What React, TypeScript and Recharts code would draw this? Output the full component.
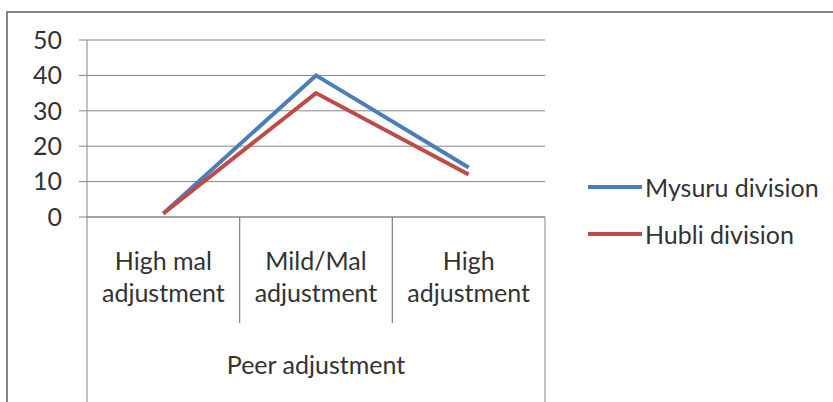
import React from 'react'
import { LineChart, Line, XAxis, YAxis, CartesianGrid } from 'recharts'

const categories = ['High mal adjustment', 'Mild/Mal adjustment', 'High adjustment']
const categoryLines = [['High mal', 'adjustment'], ['Mild/Mal', 'adjustment'], ['High', 'adjustment']]
const groupLabel = 'Peer adjustment'
const mysuru = [1, 40, 14]
const hubli = [1, 35, 12]
const yTicks = [0, 10, 20, 30, 40, 50]

const seriesInfo = [
  { key: 'mysuru', name: 'Mysuru division', color: '#4a7ebb' },
  { key: 'hubli', name: 'Hubli division', color: '#be4b48' },
]

const data = categories.map((c, i) => ({ name: c, mysuru: mysuru[i], hubli: hubli[i] }))

const W = 833
const H = 402
const LEFT = 87
const RIGHT = 288
const TOP = 40
const BOTTOM = 185
const GRAY = '#868686'
const TEXT = '#333'
const FS = 25
const FONT = 'Lato, "Open Sans", sans-serif'
const halfCat = (W - LEFT - RIGHT) / categories.length / 2

const CategoryTick = (props: any) => {
  const { x, y, index } = props
  const lines = categoryLines[index] || []
  const last = index === categories.length - 1
  return (
    <g>
      <line x1={x - halfCat} y1={y} x2={x - halfCat} y2={index === 0 ? y + 185 : y + 106} stroke={GRAY} strokeWidth={1} />
      <line x1={x + halfCat} y1={y} x2={x + halfCat} y2={last ? y + 185 : y + 106} stroke={GRAY} strokeWidth={1} />
      {lines.map((l, i) => (
        <text key={i} x={x} y={y + 53 + i * 32} textAnchor="middle" fontSize={FS} fill={TEXT} fontFamily={FONT}>
          {l}
        </text>
      ))}
      {index === 1 && (
        <text x={x} y={y + 157} textAnchor="middle" fontSize={FS} fill={TEXT} fontFamily={FONT}>
          {groupLabel}
        </text>
      )}
    </g>
  )
}

export default function App() {
  return (
    <div style={{ position: 'absolute', left: 0, top: 0, width: W, height: H, background: '#fff', overflow: 'hidden' }}>
      <div style={{ position: 'absolute', left: 6, top: 11, width: W, height: H, borderTop: `2px solid ${GRAY}`, borderLeft: `2px solid ${GRAY}` }} />
      <LineChart width={W} height={H} data={data} margin={{ top: TOP, right: RIGHT, bottom: 0, left: 0 }}>
        <CartesianGrid vertical={false} stroke={GRAY} />
        <XAxis
          dataKey="name"
          height={BOTTOM}
          padding={{ left: halfCat, right: halfCat }}
          stroke={GRAY}
          tickLine={false}
          tickSize={0}
          tickMargin={0}
          tick={<CategoryTick />}
          interval={0}
        />
        <YAxis
          width={LEFT}
          domain={[0, 50]}
          ticks={yTicks}
          interval={0}
          stroke={GRAY}
          tickSize={8}
          tickMargin={17}
          tick={{ fontSize: FS, fill: TEXT, fontFamily: FONT }}
        />
        {seriesInfo.map((s) => (
          <Line
            key={s.key}
            dataKey={s.key}
            name={s.name}
            stroke={s.color}
            strokeWidth={4}
            dot={false}
            isAnimationActive={false}
            type="linear"
          />
        ))}
      </LineChart>
      <div style={{ position: 'absolute', left: 588, top: 163, fontFamily: FONT, fontSize: FS, color: TEXT }}>
        {seriesInfo.map((s) => (
          <div key={s.key} style={{ display: 'flex', alignItems: 'center', height: 47 }}>
            <div style={{ width: 54, height: 4, background: s.color, marginRight: 3 }} />
            <span>{s.name}</span>
          </div>
        ))}
      </div>
    </div>
  )
}
